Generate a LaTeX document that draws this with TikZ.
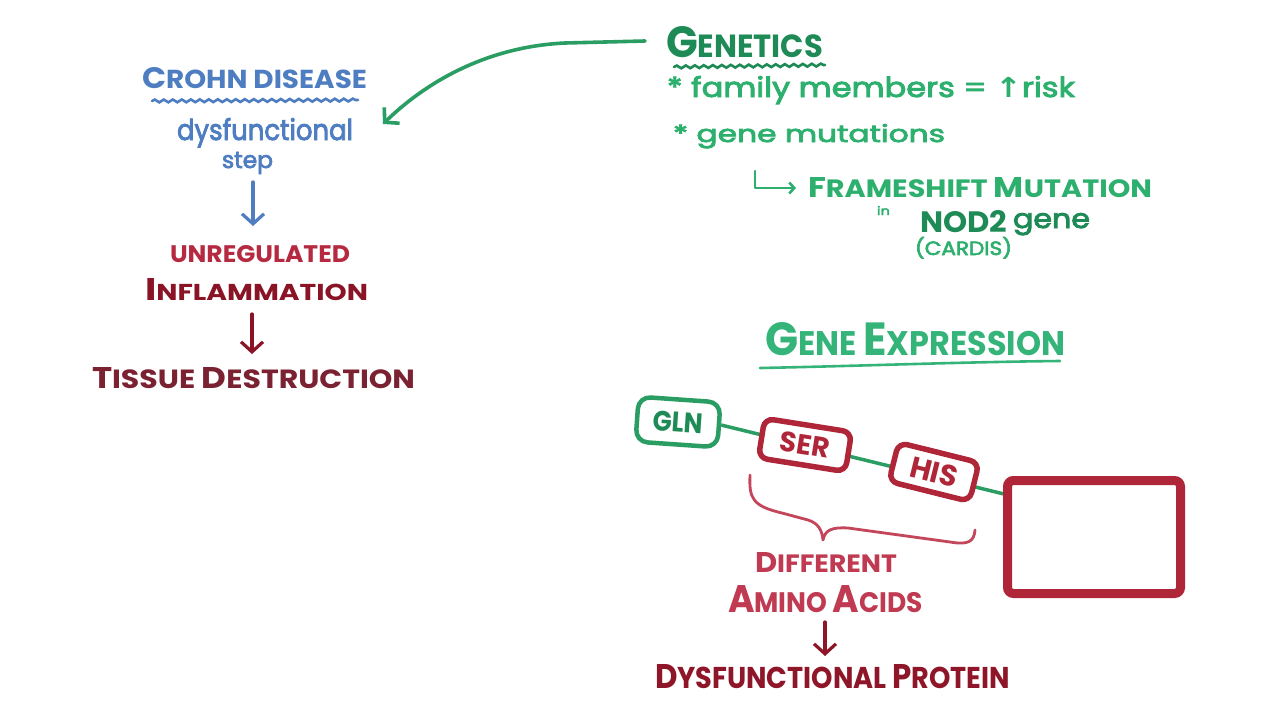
\documentclass[tikz,border=0pt]{standalone}
\usepackage{fontspec}
\setmainfont{Poppins}
\newfontfamily\lcfont{Poppins}[FakeBold=3]
\newfontfamily\symfont{DejaVu Sans}
\usepackage{graphicx}
\usetikzlibrary{arrows.meta,decorations.pathmorphing,backgrounds}
\definecolor{cblue}{HTML}{4E7EC1}
\definecolor{credA}{HTML}{B52A40}
\definecolor{credB}{HTML}{8A1426}
\definecolor{credC}{HTML}{7B2232}
\definecolor{cgreenD}{HTML}{1E8B57}
\definecolor{cgreen}{HTML}{2DB06E}
\definecolor{cgreenE}{HTML}{35B47A}
\definecolor{cgline}{HTML}{2A9D62}
\definecolor{cbox}{HTML}{B02639}
\definecolor{cbrace}{HTML}{C4465A}
\definecolor{cdiff}{HTML}{C03A52}
\definecolor{cdys}{HTML}{8E1628}
\newcommand{\upl}[1]{{\fontsize{15}{15}\selectfont #1}}
\newcommand{\upm}[1]{{\fontsize{12.5}{12.5}\selectfont #1}}
\newcommand{\fitwh}[3]{\resizebox{#1pt}{#2pt}{\fontsize{11}{11}\selectfont #3}}
\tikzset{
  txt/.style={inner sep=0pt, outer sep=0pt, anchor=base west, font=\bfseries},
  lctxt/.style={inner sep=0pt, outer sep=0pt, anchor=base west, font=\lcfont},
  barb/.style={-{Straight Barb[length=10pt,width=22pt]}, line width=3.2pt, line cap=round, line join=round},
  wavy/.style={decorate, decoration={snake, segment length=9pt, amplitude=1.4pt}, line width=2.6pt, line cap=round},
  acid/.style={draw, fill=white, rounded corners=9pt, inner sep=0pt, font=\bfseries},
}
\begin{document}
\begin{tikzpicture}[x=1pt,y=-1pt]
\useasboundingbox (0,0) rectangle (1280,720);
\begin{pgfonlayer}{background}
\fill[white] (0,0) rectangle (1280,720);
\end{pgfonlayer}

% ---------- left column ----------
\node[txt, text=cblue] (crohn) at (142,88) {\fitwh{225}{21}{\upm{C}ROHN DISEASE}};
\draw[wavy, cblue] (152,101) -- (358,100);
\node[lctxt, text=cblue] (dysf) at (177,140) {\fitwh{176}{22}{dysfunctional}};
\node[lctxt, text=cblue] (stepword) at (222,168) {\fitwh{51}{16}{step}};
\coordinate (b1) at (253,182);
\coordinate (b2) at (253,226);
\draw[barb, cblue] (b1) -- (b2);

\node[txt, text=credA] (unreg) at (170,262) {\fitwh{180}{17}{UNREGULATED}};
\node[txt, text=credB] (infl) at (145,300) {\fitwh{223}{22}{\upl{I}NFLAMMATION}};
\coordinate (r1) at (252,314);
\coordinate (r2) at (252,354);
\draw[barb, credB] (r1) -- (r2);
\node[txt, text=credC] (tissue) at (92,388) {\fitwh{323}{21}{\upm{T}ISSUE \upm{D}ESTRUCTION}};

% ---------- genetics ----------
\node[txt, text=cgreenD] (genetics) at (666,57) {\fitwh{157}{31}{\upl{G}ENETICS}};
\draw[wavy, cgreenD] (674,67) -- (825,65);
\coordinate (g1) at (645,41);
\coordinate (g2) at (383,124);
\draw[barb, cgline, line width=3.6pt] (g1) -- (565,43) .. controls (480,47) and (420,88) .. (g2);

\node[lctxt, text=cgreen] (family) at (667,97) {\fitwh{408}{21}{* family members = {\symfont\bfseries ↑}risk}};
\node[lctxt, text=cgreen] (mut) at (673,142) {\fitwh{272}{18}{* gene mutations}};
\coordinate (h1) at (755,171);
\coordinate (h2) at (796,188);
\draw[-{Straight Barb[length=5pt,width=11pt]}, line width=2.6pt, cgreen, line join=round, line cap=round] (h1) |- (h2);
\node[txt, text=cgreen] (frame) at (808,197) {\fitwh{344}{20}{\upm{F}RAMESHIFT \upm{M}UTATION}};
\node[lctxt, text=cgreen] (inword) at (877,215) {\fitwh{13}{9}{in}};
\node[txt, text=cgreenD] (nod) at (920,232) {\fitwh{87}{22}{NOD2}};
\node[lctxt, text=cgreenD] (genew) at (1013,228) {\fitwh{77}{15}{gene}};
\node[lctxt, text=cgreen] (cardis) at (915,255) {\fitwh{97}{18}{(CARDIS)}};

% ---------- gene expression ----------
\node[txt, text=cgreenE] (gexpr) at (765,355) {\fitwh{300}{33}{\upl{G}ENE \upl{E}XPRESSION}};
\draw[cgreenE, line width=2.6pt, line cap=round] (760,368) .. controls (860,366) and (960,362) .. (1060,361);

\node[acid, draw=cgline, line width=4.5pt, minimum width=82pt, minimum height=45pt, rotate=-4, rounded corners=12pt] (gln) at (678,422) {\color{cgreenD}\fitwh{50}{20}{GLN}};
\node[acid, draw=cbox, line width=5.5pt, minimum width=88pt, minimum height=40pt, rotate=-9] (ser) at (805,445) {\color{cbox}\fitwh{50}{20}{SER}};
\node[acid, draw=cbox, line width=5.5pt, minimum width=83pt, minimum height=40pt, rotate=-14] (his) at (934,472) {\color{cbox}\fitwh{48}{21}{HIS}};
\node[draw=cbox, line width=9pt, rounded corners=6pt, minimum width=173pt, minimum height=113pt, inner sep=0pt] (bigbox) at (1094,537) {};
\coordinate (chainend) at (1004,494);
\begin{pgfonlayer}{background}
\draw[cgline, line width=3.5pt] (gln.east) -- (chainend);
\end{pgfonlayer}

% brace
\draw[cbrace, line width=2.8pt, line cap=round, line join=round]
  (750,475) .. controls (749,498) and (752,506) .. (782,513)
  -- (808,520) .. controls (818,523) and (822,530) .. (823,540)
  .. controls (825,530) and (832,527) .. (848,528)
  -- (950,542) .. controls (968,545) and (974,542) .. (975,530);

\node[txt, text=cdiff] (diff) at (755,572) {\fitwh{142}{20}{\upm{D}IFFERENT}};
\node[txt, text=cdiff] (amino) at (728,612) {\fitwh{195}{27}{\upl{A}MINO \upl{A}CIDS}};
\coordinate (d1) at (825,622);
\coordinate (d2) at (825,656);
\draw[barb, cdys] (d1) -- (d2);
\node[txt, text=cdys] (dysprot) at (655,688) {\fitwh{355}{24}{\upm{D}YSFUNCTIONAL \upm{P}ROTEIN}};
\end{tikzpicture}
\end{document}
